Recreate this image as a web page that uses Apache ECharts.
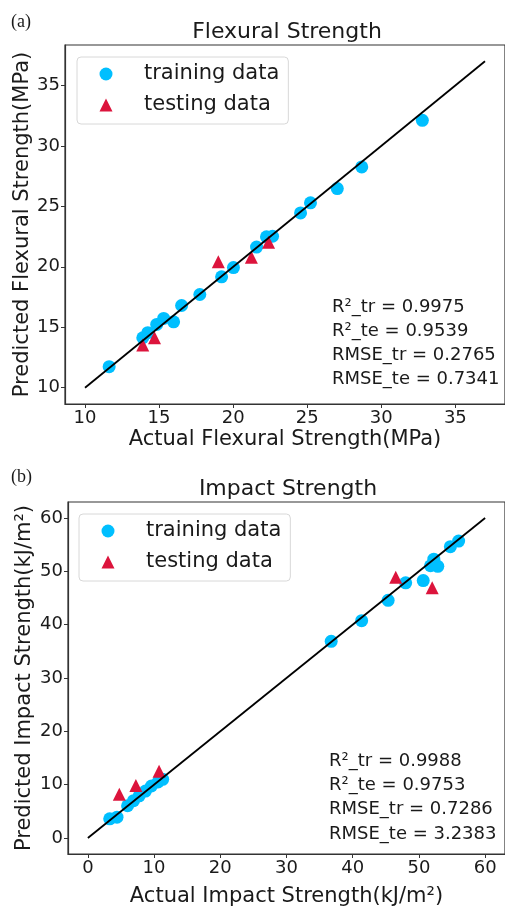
<!DOCTYPE html>
<html><head><meta charset="utf-8">
<script src="https://cdn.jsdelivr.net/npm/echarts@6/dist/echarts.min.js"></script>
<style>html,body{margin:0;padding:0;background:#fff}#c{width:505px;height:908px}</style>
</head><body><div id="c"></div>
<script>
// ---- data ----
const flexTrainActual = [11.63, 13.9, 14.24, 14.84, 15.31, 15.98, 16.52, 17.75, 19.22, 20.02, 21.58, 22.25, 22.66, 24.55, 25.22, 27.03, 28.68, 32.77];
const flexTrainPred   = [11.74, 14.13, 14.55, 15.23, 15.73, 15.45, 16.8, 17.71, 19.17, 19.94, 21.63, 22.48, 22.53, 24.46, 25.29, 26.47, 28.26, 32.12];
const flexTestActual  = [13.9, 14.69, 19.0, 21.23, 22.39];
const flexTestPred    = [13.53, 14.13, 20.41, 20.8, 22.04];
const impTrainActual  = [3.3, 4.4, 6.0, 6.9, 7.75, 8.7, 9.6, 10.6, 11.3, 36.75, 41.35, 45.35, 48.0, 50.65, 51.75, 52.25, 52.85, 54.75, 56.0];
const impTrainPred    = [3.6, 3.9, 6.05, 7.0, 7.9, 8.8, 9.75, 10.5, 11.0, 36.87, 40.75, 44.57, 47.84, 48.27, 51.05, 52.28, 50.93, 54.62, 55.67];
const impTestActual   = [4.75, 7.25, 10.75, 46.5, 52.0];
const impTestPred     = [8.2, 9.86, 12.52, 48.89, 46.92];
const flexLine = [[10, 10], [37, 37]];
const impLine  = [[0, 0], [60, 60]];
const flexTicks = [10, 15, 20, 25, 30, 35];
const impTicks  = [0, 10, 20, 30, 40, 50, 60];
const flexStats = ['R\u00b2_tr = 0.9975', 'R\u00b2_te = 0.9539', 'RMSE_tr = 0.2765', 'RMSE_te = 0.7341'];
const impStats  = ['R\u00b2_tr = 0.9988', 'R\u00b2_te = 0.9753', 'RMSE_tr = 0.7286', 'RMSE_te = 3.2383'];
const legendNames = ['training data', 'testing data'];

const zip = (a, b) => a.map((v, i) => [v, b[i]]);
const FONT = 'DejaVu Sans';
const TXT = '#1a1a1a';
const BLUE = '#00bfff', RED = '#dc143c';

function axisBase(gi, min, max, ticks, name, gap) {
  return {
    gridIndex: gi, type: 'value', min: min, max: max,
    name: name, nameLocation: 'middle', nameGap: gap, nameMoveOverlap: false,
    nameTextStyle: { fontFamily: FONT, fontSize: 21, color: TXT },
    axisLine: { show: true, onZero: false, lineStyle: { color: '#333', width: 1.2 } },
    axisTick: { show: true, length: 4, customValues: ticks, lineStyle: { color: '#333' } },
    axisLabel: { customValues: ticks, fontFamily: FONT, fontSize: 18, color: TXT, margin: 5 },
    splitLine: { show: false }
  };
}
function yAx(gi, min, max, ticks, name, gap) {
  const a = axisBase(gi, min, max, ticks, name, gap);
  a.nameRotate = 90;
  return a;
}
function legendAt(left, top) {
  return {
    data: legendNames, orient: 'vertical', left: left, top: top,
    padding: [6, 9, 8, 22.5], itemGap: 9, itemWidth: 13, itemHeight: 13,
    backgroundColor: '#fff', borderColor: '#d8d8d8', borderWidth: 1, borderRadius: 4,
    textStyle: { fontFamily: FONT, fontSize: 21, color: TXT, lineHeight: 22, padding: [0, 0, 0, 26.5] }
  };
}
function statsText(lines, x, y0, step) {
  return lines.map((t, i) => ({
    type: 'text', left: x, top: y0 + i * step - 11,
    style: { text: t, font: '18px "DejaVu Sans"', fill: TXT }
  }));
}
const titleStyle = { fontFamily: FONT, fontSize: 22, fontWeight: 'normal', color: TXT };
const tagStyle = { fontFamily: 'Liberation Serif', fontSize: 18, fontWeight: 'normal', color: TXT };

const option = {
  animation: false,
  backgroundColor: '#fff',
  title: [
    { text: 'Flexural Strength', left: 287, textAlign: 'center', top: 21, textStyle: titleStyle, padding: 0 },
    { text: 'Impact Strength', left: 288, textAlign: 'center', top: 478, textStyle: titleStyle, padding: 0 },
    { text: '(a)', left: 11, top: 13, textStyle: tagStyle, padding: 0 },
    { text: '(b)', left: 11, top: 468, textStyle: tagStyle, padding: 0 }
  ],
  grid: [
    { left: 65, top: 45, width: 443, height: 359, show: true, borderColor: '#333', borderWidth: 1.2, backgroundColor: 'transparent' },
    { left: 68, top: 502, width: 440, height: 356, show: true, borderColor: '#333', borderWidth: 1.2, backgroundColor: 'transparent' }
  ],
  xAxis: [
    axisBase(0, 8.65, 38.35, flexTicks, 'Actual Flexural Strength(MPa)', 25),
    axisBase(1, -3, 63, impTicks, 'Actual Impact Strength(kJ/m\u00b2)', 32)
  ],
  yAxis: [
    yAx(0, 8.65, 38.35, flexTicks, 'Predicted Flexural Strength(MPa)', 32),
    yAx(1, -3, 63, impTicks, 'Predicted Impact Strength(kJ/m\u00b2)', 33)
  ],
  legend: [legendAt(77, 57), legendAt(79, 514)],
  series: [
    { name: legendNames[0], type: 'scatter', xAxisIndex: 0, yAxisIndex: 0, symbol: 'circle', symbolSize: 13, itemStyle: { color: BLUE, opacity: 1 }, data: zip(flexTrainActual, flexTrainPred), z: 2 },
    { name: legendNames[1], type: 'scatter', xAxisIndex: 0, yAxisIndex: 0, symbol: 'triangle', symbolSize: 13, itemStyle: { color: RED, opacity: 1 }, data: zip(flexTestActual, flexTestPred), z: 3 },
    { type: 'line', xAxisIndex: 0, yAxisIndex: 0, data: flexLine, showSymbol: false, symbol: 'none', lineStyle: { color: '#000', width: 1.8 }, z: 4, silent: true },
    { name: legendNames[0], type: 'scatter', xAxisIndex: 1, yAxisIndex: 1, symbol: 'circle', symbolSize: 13, itemStyle: { color: BLUE, opacity: 1 }, data: zip(impTrainActual, impTrainPred), z: 2 },
    { name: legendNames[1], type: 'scatter', xAxisIndex: 1, yAxisIndex: 1, symbol: 'triangle', symbolSize: 13, itemStyle: { color: RED, opacity: 1 }, data: zip(impTestActual, impTestPred), z: 3 },
    { type: 'line', xAxisIndex: 1, yAxisIndex: 1, data: impLine, showSymbol: false, symbol: 'none', lineStyle: { color: '#000', width: 1.8 }, z: 4, silent: true }
  ],
  graphic: [].concat(statsText(flexStats, 332, 309, 24), statsText(impStats, 329, 763, 24.3))
};
const chart = echarts.init(document.getElementById('c'), null, { renderer: 'canvas' });
chart.setOption(option);
</script></body></html>
